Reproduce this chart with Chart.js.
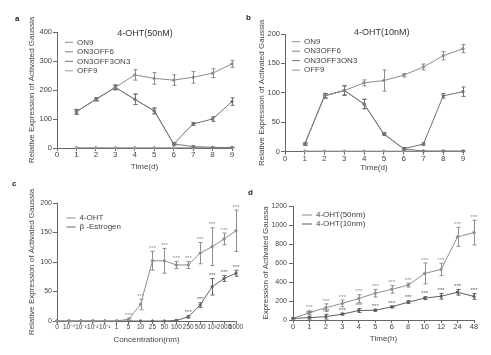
<!DOCTYPE html>
<html><head><meta charset="utf-8">
<script src="https://cdn.jsdelivr.net/npm/chart.js@4"></script>
<style>
html,body{margin:0;padding:0;background:#fff;width:491px;height:355px;overflow:hidden;position:relative}
canvas{position:absolute}
.lbl{position:absolute;font:bold 8px "Liberation Sans",Arial,sans-serif;color:#222;line-height:8px}
</style></head><body>
<canvas id="ca" width="245" height="175" style="left:0;top:0"></canvas>
<canvas id="cb" width="246" height="175" style="left:245px;top:0"></canvas>
<canvas id="cc" width="256" height="180" style="left:0;top:175px"></canvas>
<canvas id="cd" width="246" height="180" style="left:245px;top:175px"></canvas>
<div class="lbl" style="left:15px;top:15px">a</div>
<div class="lbl" style="left:246px;top:14px">b</div>
<div class="lbl" style="left:12px;top:180px">c</div>
<div class="lbl" style="left:248px;top:189px">d</div>
<script>
// ---------- data ----------
const days = [1, 2, 3, 4, 5, 6, 7, 8, 9];

// panel a: 4-OHT (50nM)
const aON9 = [125, 168, 209, 252, 240, 234, 244, 258, 290];
const aON9Err = [8, 5, 8, 18, 20, 18, 20, 15, 12];
const aON3OFF6 = [125, 168, 209, 168, 128, 14, 5, 2, 2];
const aON3OFF6Err = [8, 5, 8, 18, 10, 4, 2, 1, 1];
const aON3OFF3ON3 = [125, 168, 209, 168, 128, 14, 83, 100, 160];
const aON3OFF3ON3Err = [8, 5, 8, 18, 10, 4, 5, 8, 13];
const aOFF9 = [1, 1, 1, 1, 1, 1, 1, 1, 1];
const aOFF9Err = [0, 0, 0, 0, 0, 0, 0, 0, 0];

// panel b: 4-OHT (10nM)
const bON9 = [13, 95, 104, 117, 121, 130, 144, 163, 175];
const bON9Err = [2, 4, 8, 5, 18, 3, 5, 7, 7];
const bON3OFF6 = [13, 95, 104, 81, 30, 5, 1, 1, 1];
const bON3OFF6Err = [2, 4, 8, 8, 2, 2, 1, 1, 1];
const bON3OFF3ON3 = [13, 95, 104, 81, 30, 5, 13, 95, 102];
const bON3OFF3ON3Err = [2, 4, 8, 8, 2, 2, 2, 4, 8];
const bOFF9 = [1, 1, 1, 1, 1, 1, 1, 1, 1];
const bOFF9Err = [0, 0, 0, 0, 0, 0, 0, 0, 0];

// panel c: concentration response
const concLabels = ['0', '10⁻⁴', '10⁻³', '10⁻²', '10⁻¹', '1', '5', '10', '25', '50', '100', '250', '500', '10³', '2000', '5000'];
const cOHT = [0, 0, 0, 0, 0, 0, 3, 28, 102, 102, 95, 95, 115, 126, 139, 153];
const cOHTErr = [0, 0, 0, 0, 0, 0, 2, 9, 16, 21, 6, 6, 18, 32, 10, 35];
const cOHTSig = [0, 0, 0, 0, 0, 0, 1, 1, 1, 1, 1, 1, 1, 1, 1, 1];
const cEst = [0, 0, 0, 0, 0, 0, 0, 0, 0, 0, 1, 7, 27, 58, 72, 81];
const cEstErr = [0, 0, 0, 0, 0, 0, 0, 0, 0, 0, 1, 2, 4, 14, 5, 5];
const cEstSig = [0, 0, 0, 0, 0, 0, 0, 0, 0, 0, 0, 1, 1, 1, 1, 1];

// panel d: time course (h)
const hourLabels = ['0', '1', '2', '3', '4', '5', '6', '8', '10', '12', '24', '48'];
const d50 = [17, 77, 130, 175, 226, 282, 323, 367, 490, 532, 875, 920];
const d50Err = [5, 20, 40, 35, 40, 40, 40, 20, 110, 65, 100, 130];
const d50Sig = [0, 1, 1, 1, 1, 1, 1, 1, 1, 1, 1, 1];
const d10 = [17, 25, 35, 62, 100, 103, 138, 188, 230, 250, 292, 248];
const d10Err = [5, 15, 25, 10, 20, 10, 10, 15, 15, 30, 30, 30];
const d10Sig = [0, 1, 1, 1, 1, 1, 1, 1, 1, 1, 1, 1];

// ---------- helpers ----------
Chart.defaults.font.family = '"Liberation Sans", Arial, Helvetica, sans-serif';
Chart.defaults.color = '#444';
Chart.defaults.animation = false;

const FONT = '"Liberation Sans", Arial, sans-serif';

function mkLine(label, color, xs, ys, errs, sig) {
  return {
    label: label,
    data: xs ? xs.map((x, i) => ({ x: x, y: ys[i] })) : ys,
    borderColor: color, backgroundColor: color, borderWidth: 1,
    pointRadius: 1.2, pointHoverRadius: 1.2, pointBorderWidth: 1,
    pointBorderColor: color, pointBackgroundColor: color,
    tension: 0, clip: false,
    errors: errs, sig: sig
  };
}

const errPlugin = {
  id: 'errbars',
  afterDatasetsDraw(chart) {
    const ctx = chart.ctx, ys = chart.scales.y;
    chart.data.datasets.forEach((ds, i) => {
      const meta = chart.getDatasetMeta(i);
      ctx.save();
      ctx.strokeStyle = ds.borderColor; ctx.fillStyle = ds.borderColor; ctx.lineWidth = 1;
      meta.data.forEach((pt, j) => {
        const v = meta.controller.getParsed(j).y;
        const e = ds.errors ? ds.errors[j] : 0;
        const yT = ys.getPixelForValue(v + e);
        const yB = ys.getPixelForValue(Math.max(0, v - e));
        const x = Math.round(pt.x) + 0.5;
        if (e > 0) {
          ctx.beginPath();
          ctx.moveTo(x, yT); ctx.lineTo(x, yB);
          ctx.moveTo(x - 2, yT); ctx.lineTo(x + 2, yT);
          ctx.moveTo(x - 2, yB); ctx.lineTo(x + 2, yB);
          ctx.stroke();
        }
        if (ds.sig && ds.sig[j]) {
          ctx.font = '6px ' + FONT;
          ctx.textAlign = 'center'; ctx.textBaseline = 'middle';
          ctx.fillText('***', pt.x, yT - 3);
        }
      });
      ctx.restore();
    });
  }
};

function makeShift(left, top, cx) {
  return {
    id: 'legendShift',
    afterLayout(chart) {
      const lg = chart.legend; if (!lg) return;
      lg.left = left; lg.top = top;
      if (cx != null) lg.width = 2 * (cx - left);
    }
  };
}

function yAxis(max, step, width, text, titlePadTop, tickSize, tickPad) {
  return {
    type: 'linear', min: 0, max: max,
    ticks: { stepSize: step, padding: tickPad, font: { size: tickSize }, color: '#444', callback: (v) => String(v) },
    grid: { display: true, drawOnChartArea: false, drawTicks: true, tickLength: 4, color: '#666' },
    border: { display: true, color: '#666', width: 1 },
    title: { display: true, text: text, font: { size: 8 }, color: '#444', padding: { top: titlePadTop, bottom: 0 } },
    afterFit(s) { s.width = width; }
  };
}

function xAxis(kind, height, text, titlePadBottom, tickSize) {
  const ax = {
    type: kind,
    ticks: { padding: 0, font: { size: tickSize, lineHeight: 1 }, color: '#444', autoSkip: false, maxRotation: 0, minRotation: 0 },
    grid: { display: true, drawOnChartArea: false, drawTicks: true, tickLength: 3, color: '#666', offset: false },
    border: { display: true, color: '#666', width: 1 },
    title: { display: true, text: text, font: { size: 8 }, color: '#444', padding: { top: 0, bottom: titlePadBottom } },
    afterFit(s) { s.height = height; }
  };
  if (kind === 'linear') { ax.min = 0; ax.max = 9; ax.ticks.stepSize = 1; }
  else { ax.offset = false; }
  return ax;
}

function legendOpts(titleText, pw, pad) {
  const o = {
    position: 'chartArea', align: 'start',
    labels: { usePointStyle: true, pointStyle: 'line', pointStyleWidth: pw, boxHeight: 8, padding: pad, font: { size: 8 }, color: '#444' }
  };
  if (titleText) {
    o.title = { display: true, text: titleText, position: 'center', color: '#333', font: { size: 9, lineHeight: 0.889 }, padding: 0 };
  }
  return o;
}

// ---------- panel a ----------
new Chart(document.getElementById('ca'), {
  type: 'line',
  data: { datasets: [
    mkLine('ON9', '#8c8c8c', days, aON9, aON9Err),
    mkLine('ON3OFF6', '#7c7c7c', days, aON3OFF6, aON3OFF6Err),
    mkLine('ON3OFF3ON3', '#707070', days, aON3OFF3ON3, aON3OFF3ON3Err),
    mkLine('OFF9', '#999999', days, aOFF9, aOFF9Err)
  ]},
  options: {
    responsive: false, animation: false, events: [],
    layout: { padding: { left: 0, right: 13, top: 32, bottom: 0 } },
    plugins: { legend: legendOpts('4-OHT(50nM)', 8, 1.5), tooltip: { enabled: false } },
    scales: {
      x: xAxis('linear', 27, 'Time(d)', 3.2, 8),
      y: yAxis(400, 100, 57, 'Relative Expression of Activated Gaussia', 27.2, 7.5, 1)
    }
  },
  plugins: [errPlugin, makeShift(63.5, 28.8, 145)]
});

// ---------- panel b ----------
new Chart(document.getElementById('cb'), {
  type: 'line',
  data: { datasets: [
    mkLine('ON9', '#8c8c8c', days, bON9, bON9Err),
    mkLine('ON3OFF6', '#7c7c7c', days, bON3OFF6, bON3OFF6Err),
    mkLine('ON3OFF3ON3', '#707070', days, bON3OFF3ON3, bON3OFF3ON3Err),
    mkLine('OFF9', '#999999', days, bOFF9, bOFF9Err)
  ]},
  options: {
    responsive: false, animation: false, events: [],
    layout: { padding: { left: 0, right: 28, top: 34, bottom: 0 } },
    plugins: { legend: legendOpts('4-OHT(10nM)', 8, 1.5), tooltip: { enabled: false } },
    scales: {
      x: xAxis('linear', 23.3, 'Time(d)', 2.2, 8),
      y: yAxis(200, 50, 40, 'Relative Expression of Activated Gaussia', 11.9, 7.5, 1)
    }
  },
  plugins: [errPlugin, makeShift(45.5, 28.2, 136.7)]
});

// ---------- panel c ----------
new Chart(document.getElementById('cc'), {
  type: 'line',
  data: { labels: concLabels, datasets: [
    mkLine('4-OHT', '#8e8e8e', null, cOHT, cOHTErr, cOHTSig),
    mkLine('β -Estrogen', '#666666', null, cEst, cEstErr, cEstSig)
  ]},
  options: {
    responsive: false, animation: false, events: [],
    layout: { padding: { left: 0, right: 20, top: 28, bottom: 0 } },
    plugins: { legend: legendOpts(null, 9, 1), tooltip: { enabled: false } },
    scales: {
      x: xAxis('category', 34, 'Concentration(nm)', 10.2, 6.5),
      y: yAxis(200, 50, 57, 'Relative Expression of Activated Gaussia', 27.2, 7, 1)
    }
  },
  plugins: [errPlugin, makeShift(65.5, 38)]
});

// ---------- panel d ----------
new Chart(document.getElementById('cd'), {
  type: 'line',
  data: { labels: hourLabels, datasets: [
    mkLine('4-OHT(50nm)', '#8e8e8e', null, d50, d50Err, d50Sig),
    mkLine('4-OHT(10nm)', '#5e5e5e', null, d10, d10Err, d10Sig)
  ]},
  options: {
    responsive: false, animation: false, events: [],
    layout: { padding: { left: 0, right: 17, top: 31, bottom: 0 } },
    plugins: { legend: legendOpts(null, 10, 1), tooltip: { enabled: false } },
    scales: {
      x: xAxis('category', 35, 'Time(h)', 11.9, 7.5),
      y: yAxis(1200, 200, 48, 'Expression of Activated Gaussa', 16.2, 7, 2)
    }
  },
  plugins: [errPlugin, makeShift(56, 35)]
});
</script>
</body></html>
